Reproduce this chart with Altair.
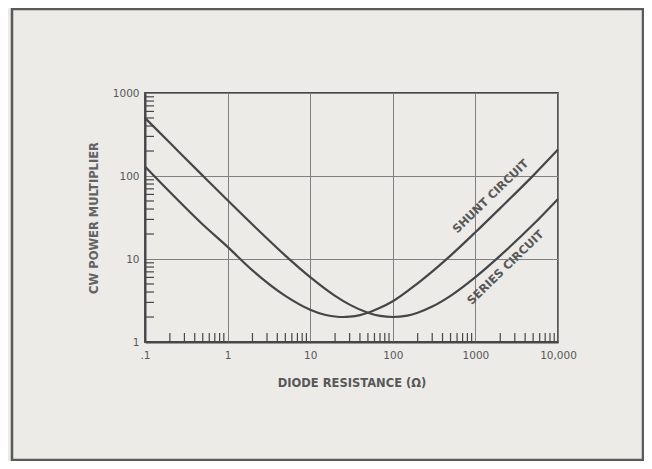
import altair as alt
import pandas as pd

# Data (diode resistance in ohms -> CW power multiplier)
shunt_r = [0.1, 0.2, 0.5, 1, 2, 5, 10, 15, 20, 25, 30, 40, 50, 70, 100, 200, 500, 1000, 2000, 5000, 10000]
shunt_m = [130, 64, 26, 14, 7.3, 3.6, 2.45, 2.13, 2.03, 2.0, 2.02, 2.11, 2.25, 2.58, 3.1, 5.1, 11, 21, 41, 101, 208]

series_r = [0.1, 0.2, 0.5, 1, 2, 5, 10, 20, 30, 50, 70, 100, 150, 200, 300, 500, 1000, 2000, 5000, 10000]
series_m = [500, 251, 101, 51, 26, 11, 6.05, 3.6, 2.82, 2.25, 2.06, 2.0, 2.08, 2.25, 2.67, 3.6, 6.05, 11, 26, 53]

x_ticks = [0.1, 1, 10, 100, 1000, 10000]
y_ticks = [1, 10, 100, 1000]
x_minor = [m * d for d in [0.1, 1, 10, 100, 1000] for m in range(2, 10)]
y_minor = [m * d for d in [1, 10, 100] for m in range(2, 10)]

label_names = ["SHUNT CIRCUIT", "SERIES CIRCUIT"]
label_r = [1550, 2350]
label_m = [56, 7.8]

INK = "#464646"
TXT = "#585858"
FONT = "DejaVu Sans"
W, H = 413, 249

curves = pd.DataFrame({
    "r": shunt_r + series_r,
    "m": shunt_m + series_m,
    "circuit": ["Shunt"] * len(shunt_r) + ["Series"] * len(series_r),
})

xscale = alt.Scale(type="log", domain=[0.1, 10000], nice=False)
yscale = alt.Scale(type="log", domain=[1, 1000], nice=False)

xaxis = alt.Axis(
    values=x_ticks, title="DIODE RESISTANCE (Ω)", grid=True, gridColor="#808080",
    gridWidth=1, ticks=False, domainColor=INK, domainWidth=2, labelPadding=8,
    labelExpr="datum.value == 0.1 ? '.1' : (datum.value == 10000 ? '10,000' : format(datum.value, 'd'))",
    labelFont=FONT, labelFontSize=10.5, labelColor=TXT, labelFlush=False,
    titleFont=FONT, titleFontSize=11.5, titleFontWeight="bold", titleColor=TXT,
    titlePadding=17,
)
yaxis = alt.Axis(
    values=y_ticks, title="CW POWER MULTIPLIER", grid=True, gridColor="#808080",
    gridWidth=1, ticks=False, domainColor=INK, domainWidth=2, labelPadding=6,
    labelExpr="format(datum.value, 'd')", labelFlush=False,
    labelFont=FONT, labelFontSize=10.5, labelColor=TXT,
    titleFont=FONT, titleFontSize=11.5, titleFontWeight="bold", titleColor="#626262",
    titlePadding=13,
)

lines = alt.Chart(curves).mark_line(color=INK, strokeWidth=2.2, interpolate="monotone").encode(
    x=alt.X("r:Q", scale=xscale, axis=xaxis),
    y=alt.Y("m:Q", scale=yscale, axis=yaxis),
    detail="circuit:N",
)

xminor = alt.Chart(pd.DataFrame({"r": x_minor})).mark_rule(color=INK, strokeWidth=1.2).encode(
    x=alt.X("r:Q", scale=xscale),
    y=alt.value(H),
    y2=alt.value(H - 9),
)
yminor = alt.Chart(pd.DataFrame({"m": y_minor})).mark_rule(color=INK, strokeWidth=1.2).encode(
    y=alt.Y("m:Q", scale=yscale),
    x=alt.value(0),
    x2=alt.value(9),
)

labels = alt.Chart(pd.DataFrame({"r": label_r, "m": label_m, "t": label_names})).mark_text(
    angle=316, font=FONT, fontSize=11.5, fontWeight="bold", color=TXT,
).encode(
    x=alt.X("r:Q", scale=xscale),
    y=alt.Y("m:Q", scale=yscale),
    text="t:N",
)

frame = alt.Chart(pd.DataFrame({"k": [0]})).mark_rect(
    filled=False, stroke="#5a5a5a", strokeWidth=2.5,
).encode(
    x=alt.value(-133), x2=alt.value(498), y=alt.value(-84), y2=alt.value(367),
)

chart = alt.layer(frame, lines, xminor, yminor, labels).properties(
    width=W, height=H,
    autosize=alt.AutoSizeParams(type="none"),
    padding={"left": 137, "top": 85, "right": 86, "bottom": 119},
    background="#ecebe7",
).configure_view(stroke=INK, strokeWidth=1.8)

chart.save("out.html", embed_options={"renderer": "svg", "actions": False})
